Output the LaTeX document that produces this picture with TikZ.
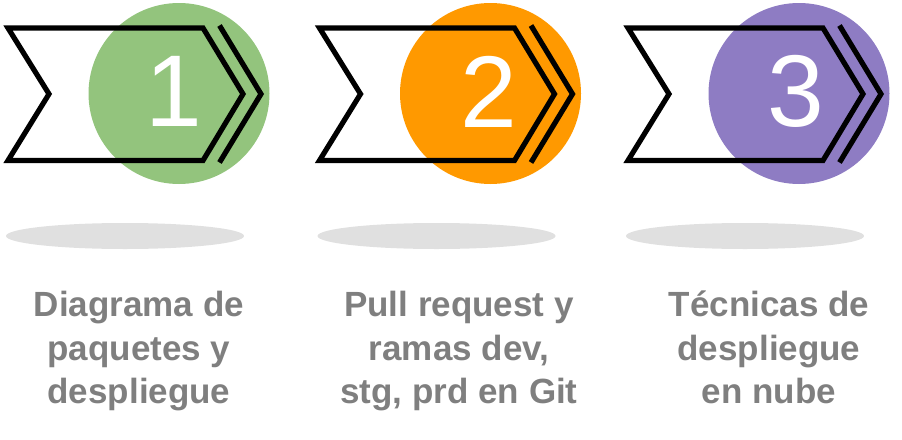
\documentclass[tikz,border=0pt]{standalone}
\usepackage{fontspec}
\setmainfont{Liberation Sans}
\definecolor{cgreen}{HTML}{93C47D}
\definecolor{corange}{HTML}{FF9900}
\definecolor{cpurple}{HTML}{8E7CC3}
\definecolor{ctext}{HTML}{7F7F7F}
\definecolor{cshadow}{HTML}{E0E0E0}
\tikzset{
  chev/.style={draw=black, line width=5.2pt, line join=miter},
  disc/.style={circle, inner sep=0pt, minimum size=181pt},
  digit/.style={text=white, inner sep=0pt, font=\fontsize{102}{102}\selectfont},
  shadowell/.style={fill=cshadow, draw=none},
  label/.style={text=ctext, inner sep=0pt, align=center, anchor=north,
    font=\fontsize{35}{43.5}\selectfont\bfseries},
}
\begin{document}
\begin{tikzpicture}[x=1pt,y=-1pt]
\useasboundingbox (0,0) rectangle (902,439);
\foreach \i/\dx/\col/\num/\dgx/\tx in {1/0/cgreen/1/174/139, 2/311.5/corange/2/489/459, 3/620/cpurple/3/796/769} {
  \begin{scope}
    \node[disc, fill=\col] (c\i) at (179+\dx,93.5) {};
    \node[digit] (d\i) at (\dgx,91.5) {\num};
    \draw[chev] (8+\dx,28) -- (203+\dx,28) -- (243+\dx,94) -- (203+\dx,160.5) -- (8+\dx,160.5) -- (49+\dx,94) -- cycle;
    \draw[chev] (219.5+\dx,25.5) -- (261+\dx,94) -- (219.5+\dx,162.5);
    \fill[shadowell] (125+\dx,236) ellipse [x radius=119, y radius=13];
  \end{scope}
}
\node[label] (t1) at (139,291) {Diagrama de\\paquetes y\\despliegue};
\node[label] (t2) at (459,291) {Pull request y\\ramas dev,\\stg, prd en Git};
\node[label] (t3) at (769,291) {Técnicas de\\despliegue\\en nube};
\end{tikzpicture}
\end{document}
